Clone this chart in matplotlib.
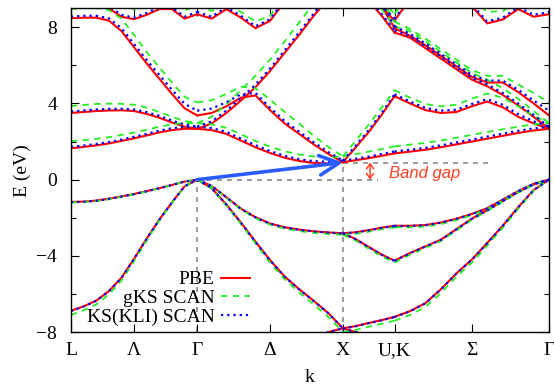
import numpy as np
import matplotlib
matplotlib.use("Agg")
import matplotlib.pyplot as plt
from matplotlib.ticker import MultipleLocator

# high-symmetry points of the fcc path L-G-X-U,K-G (units of 2pi/a)
sym_labels = ['L', 'Λ', 'Γ', 'Δ', 'X', 'U,K', 'Σ', 'Γ']
sym_k = [0.0, 0.433, 0.866, 1.366, 1.866, 2.220, 2.750, 3.280]

# k samples on each segment
k_LG = np.linspace(0.0, 0.866, 11)
k_GX = np.linspace(0.866, 1.866, 11)
k_XU = np.linspace(1.866, 2.220, 5)
k_KG = np.linspace(2.220, 3.280, 11)

# band energies (eV), one list per band
pbe_LG = [
    [-6.88, -6.65, -6.35, -5.85, -5.15, -4.15, -3.1, -2.1, -1.2, -0.35, 0.0],
    [-1.17, -1.15, -1.1, -1.0, -0.88, -0.75, -0.6, -0.45, -0.28, -0.1, 0.0],
    [1.65, 1.72, 1.8, 1.9, 2.03, 2.17, 2.32, 2.48, 2.6, 2.67, 2.67],
    [3.5, 3.55, 3.6, 3.63, 3.64, 3.6, 3.45, 3.25, 3.0, 2.78, 2.67],
    [8.47, 8.5, 8.5, 8.35, 7.8, 6.95, 6.1, 5.3, 4.5, 3.75, 3.37],
    [9.8, 9.6, 9.35, 9.0, 8.55, 8.42, 8.65, 8.95, 8.95, 8.45, 8.68],
]
gks_LG = [
    [-7.1, -6.86, -6.55, -6.03, -5.3, -4.27, -3.19, -2.15, -1.23, -0.36, 0.0],
    [-1.2, -1.18, -1.13, -1.03, -0.9, -0.77, -0.62, -0.46, -0.29, -0.1, 0.0],
    [2.02, 2.07, 2.14, 2.23, 2.35, 2.47, 2.62, 2.78, 2.9, 2.97, 2.97],
    [3.86, 3.92, 3.97, 3.99, 3.98, 3.93, 3.78, 3.55, 3.3, 3.08, 2.97],
    [8.95, 9.0, 9.0, 8.9, 8.45, 7.6, 6.7, 5.9, 5.1, 4.35, 4.05],
    [10.2, 10.0, 9.8, 9.5, 9.1, 8.95, 9.15, 9.4, 9.35, 8.9, 9.1],
]
kli_LG = [
    [-6.9, -6.66, -6.36, -5.86, -5.16, -4.16, -3.1, -2.1, -1.2, -0.35, 0.0],
    [-1.18, -1.16, -1.11, -1.01, -0.89, -0.76, -0.61, -0.45, -0.28, -0.1, 0.0],
    [1.72, 1.79, 1.87, 1.97, 2.1, 2.25, 2.4, 2.57, 2.7, 2.77, 2.78],
    [3.58, 3.63, 3.68, 3.71, 3.72, 3.68, 3.54, 3.35, 3.1, 2.89, 2.78],
    [8.55, 8.6, 8.6, 8.47, 7.95, 7.12, 6.28, 5.5, 4.72, 3.98, 3.62],
    [9.9, 9.7, 9.45, 9.1, 8.65, 8.5, 8.75, 9.05, 9.05, 8.55, 8.8],
]

pbe_GX = [
    [-11.9, -11.8, -11.5, -11.1, -10.6, -10.0, -9.4, -8.9, -8.4, -8.0, -7.8],
    [0.0, -0.45, -1.3, -2.25, -3.25, -4.22, -5.08, -5.75, -6.36, -7.0, -7.8],
    [0.0, -0.33, -0.92, -1.52, -1.97, -2.3, -2.5, -2.62, -2.71, -2.77, -2.81],
    [2.67, 2.6, 2.4, 2.05, 1.7, 1.4, 1.15, 0.98, 0.88, 0.85, 0.92],
    [2.67, 2.95, 3.5, 4.15, 4.85, 5.7, 6.65, 7.6, 8.6, 9.5, 10.3],
    [3.37, 3.5, 3.85, 4.3, 4.42, 3.65, 2.95, 2.4, 1.85, 1.35, 0.92],
    [8.68, 8.45, 8.95, 8.5, 7.95, 8.33, 9.35, 9.9, 10.3, 10.5, 10.5],
]
gks_GX = [
    [-12.1, -12.0, -11.7, -11.3, -10.8, -10.2, -9.6, -9.1, -8.6, -8.2, -8.0],
    [0.0, -0.47, -1.35, -2.32, -3.35, -4.35, -5.22, -5.92, -6.55, -7.2, -8.0],
    [0.0, -0.35, -0.95, -1.56, -2.02, -2.36, -2.57, -2.7, -2.79, -2.85, -2.89],
    [2.97, 2.9, 2.72, 2.38, 2.03, 1.73, 1.49, 1.32, 1.22, 1.18, 1.22],
    [2.97, 3.3, 3.95, 4.7, 5.45, 6.3, 7.25, 8.25, 9.25, 10.1, 10.8],
    [4.05, 4.17, 4.5, 4.88, 4.8, 4.2, 3.55, 2.95, 2.3, 1.72, 1.22],
    [9.1, 8.85, 9.3, 8.8, 8.3, 8.6, 9.6, 10.3, 10.7, 10.9, 10.9],
]
kli_GX = [
    [-11.9, -11.8, -11.5, -11.1, -10.6, -10.0, -9.4, -8.9, -8.4, -8.0, -7.8],
    [0.0, -0.45, -1.31, -2.26, -3.26, -4.23, -5.09, -5.76, -6.37, -7.01, -7.81],
    [0.0, -0.33, -0.92, -1.53, -1.98, -2.31, -2.51, -2.63, -2.72, -2.78, -2.82],
    [2.78, 2.71, 2.51, 2.16, 1.81, 1.5, 1.25, 1.07, 0.97, 0.94, 1.0],
    [2.78, 3.06, 3.62, 4.28, 4.98, 5.83, 6.78, 7.73, 8.72, 9.62, 10.4],
    [3.62, 3.73, 4.06, 4.48, 4.55, 3.78, 3.08, 2.52, 1.96, 1.45, 1.0],
    [8.8, 8.55, 9.05, 8.6, 8.05, 8.42, 9.42, 10.0, 10.4, 10.6, 10.6],
]

pbe_XU = [
    [-7.8, -8.0, -8.15, -8.25, -8.3],
    [-7.8, -7.68, -7.52, -7.37, -7.2],
    [-2.81, -3.12, -3.53, -3.93, -4.25],
    [-2.81, -2.76, -2.65, -2.52, -2.42],
    [0.92, 1.02, 1.13, 1.25, 1.38],
    [0.92, 1.7, 2.5, 3.4, 4.38],
    [10.3, 10.2, 9.85, 9.1, 7.95],
    [10.3, 10.0, 9.4, 8.6, 7.72],
    [10.5, 10.3, 9.8, 9.1, 8.33],
]
gks_XU = [
    [-8.0, -8.2, -8.35, -8.45, -8.5],
    [-8.0, -7.88, -7.72, -7.56, -7.4],
    [-2.89, -3.2, -3.62, -4.02, -4.35],
    [-2.89, -2.84, -2.73, -2.6, -2.5],
    [1.22, 1.34, 1.47, 1.6, 1.75],
    [1.22, 2.05, 2.88, 3.78, 4.7],
    [10.8, 10.6, 10.2, 9.45, 8.3],
    [10.8, 10.4, 9.8, 8.95, 8.05],
    [10.9, 10.7, 10.2, 9.45, 8.7],
]
kli_XU = [
    [-7.81, -8.0, -8.15, -8.25, -8.3],
    [-7.81, -7.69, -7.53, -7.38, -7.21],
    [-2.82, -3.13, -3.54, -3.94, -4.26],
    [-2.82, -2.77, -2.66, -2.53, -2.43],
    [1.0, 1.1, 1.21, 1.34, 1.48],
    [1.0, 1.79, 2.6, 3.5, 4.48],
    [10.4, 10.3, 9.95, 9.2, 8.05],
    [10.4, 10.1, 9.5, 8.7, 7.82],
    [10.6, 10.4, 9.9, 9.2, 8.43],
]

pbe_KG = [
    [-8.3, -8.6, -9.0, -9.4, -9.9, -10.4, -10.9, -11.3, -11.6, -11.8, -11.9],
    [-7.2, -6.9, -6.48, -5.75, -4.92, -4.2, -3.32, -2.42, -1.45, -0.55, 0.0],
    [-4.25, -3.85, -3.5, -3.15, -2.6, -2.05, -1.6, -1.12, -0.65, -0.25, 0.0],
    [-2.42, -2.42, -2.38, -2.25, -2.05, -1.8, -1.5, -1.05, -0.6, -0.22, 0.0],
    [1.38, 1.47, 1.57, 1.7, 1.85, 2.0, 2.15, 2.3, 2.45, 2.58, 2.67],
    [4.38, 4.0, 3.65, 3.5, 3.55, 3.85, 4.1, 3.8, 3.3, 2.95, 2.67],
    [7.95, 7.55, 7.05, 6.5, 5.95, 5.4, 5.1, 5.1, 4.6, 4.0, 3.37],
    [7.72, 7.45, 6.9, 6.35, 5.8, 5.25, 4.9, 4.45, 3.9, 3.3, 2.67],
    [8.33, 9.5, 10.0, 10.0, 9.6, 9.1, 8.2, 8.4, 8.95, 8.55, 8.68],
]
gks_KG = [
    [-8.5, -8.8, -9.2, -9.6, -10.1, -10.6, -11.1, -11.5, -11.8, -12.0, -12.1],
    [-7.4, -7.1, -6.68, -5.95, -5.1, -4.36, -3.46, -2.53, -1.53, -0.59, 0.0],
    [-4.35, -3.94, -3.58, -3.22, -2.67, -2.11, -1.65, -1.16, -0.68, -0.27, 0.0],
    [-2.5, -2.5, -2.46, -2.33, -2.12, -1.86, -1.55, -1.09, -0.63, -0.24, 0.0],
    [1.75, 1.84, 1.93, 2.05, 2.2, 2.35, 2.5, 2.64, 2.78, 2.9, 2.97],
    [4.7, 4.3, 3.97, 3.85, 3.93, 4.25, 4.52, 4.3, 3.85, 3.35, 2.97],
    [8.3, 7.9, 7.4, 6.85, 6.3, 5.75, 5.45, 5.45, 5.0, 4.55, 4.05],
    [8.05, 7.8, 7.25, 6.7, 6.15, 5.6, 5.25, 4.8, 4.25, 3.6, 2.97],
    [8.7, 9.8, 10.3, 10.3, 9.9, 9.5, 8.8, 8.85, 9.3, 9.0, 9.1],
]
kli_KG = [
    [-8.3, -8.6, -9.0, -9.4, -9.9, -10.4, -10.9, -11.3, -11.6, -11.8, -11.9],
    [-7.21, -6.91, -6.49, -5.76, -4.93, -4.21, -3.33, -2.43, -1.46, -0.55, 0.0],
    [-4.26, -3.86, -3.51, -3.16, -2.61, -2.06, -1.61, -1.13, -0.65, -0.25, 0.0],
    [-2.43, -2.43, -2.39, -2.26, -2.06, -1.81, -1.51, -1.06, -0.6, -0.22, 0.0],
    [1.48, 1.57, 1.67, 1.8, 1.95, 2.1, 2.26, 2.41, 2.56, 2.69, 2.78],
    [4.48, 4.1, 3.76, 3.62, 3.67, 3.97, 4.22, 3.93, 3.44, 3.06, 2.78],
    [8.05, 7.65, 7.15, 6.6, 6.05, 5.5, 5.2, 5.2, 4.72, 4.15, 3.62],
    [7.82, 7.55, 7.0, 6.45, 5.9, 5.35, 5.0, 4.55, 4.0, 3.4, 2.78],
    [8.43, 9.6, 10.1, 10.1, 9.7, 9.2, 8.3, 8.5, 9.05, 8.65, 8.8],
]

# band gap annotation
gap = 0.9
gap_arrow_k = 2.052
zero_line_end = 2.107
gap_line_end = 2.862

plt.rcParams['font.family'] = ['Liberation Serif', 'DejaVu Serif']
plt.rcParams['font.size'] = 14

fig = plt.figure(figsize=(5.54, 3.88), dpi=100)
ax = fig.add_axes([0.128, 0.144, 0.863, 0.835])

kgrids = [k_LG, k_GX, k_XU, k_KG]
series = [
    ('PBE', [pbe_LG, pbe_GX, pbe_XU, pbe_KG],
     dict(color='#ff0000', lw=1.5, ls='-')),
    ('gKS SCAN', [gks_LG, gks_GX, gks_XU, gks_KG],
     dict(color='#22ee22', lw=1.3, ls=(0, (3.5, 3)))),
    ('KS(KLI) SCAN', [kli_LG, kli_GX, kli_XU, kli_KG],
     dict(color='#0000ff', lw=1.6, ls=(0, (1, 1.8)))),
]

for name, segs, style in series:
    first = True
    for kk, bands in zip(kgrids, segs):
        for b in bands:
            ax.plot(kk, b, label=name if first else None, **style)
            first = False

# grey guide lines for the gap
grey = dict(color='#8a8a8a', lw=1.2, linestyles=(0, (3, 3)), zorder=1)
ax.vlines(sym_k[2], -8, 0, **grey)
ax.vlines(sym_k[4], -8, gap, **grey)
ax.hlines(0, sym_k[2], zero_line_end, **grey)
ax.hlines(gap, sym_k[4], gap_line_end, **grey)

# indirect gap arrow
ax.annotate('', xy=(sym_k[4], gap), xytext=(sym_k[2], 0),
            arrowprops=dict(arrowstyle='->,head_length=0.7,head_width=0.35',
                            color='#2a5cff', lw=2.6, shrinkA=0, shrinkB=0,
                            mutation_scale=20), zorder=5)
ax.annotate('', xy=(gap_arrow_k, gap), xytext=(gap_arrow_k, 0),
            arrowprops=dict(arrowstyle='<->,head_length=0.35,head_width=0.25',
                            color='#ff4020', lw=1.1, shrinkA=0, shrinkB=0,
                            mutation_scale=10), zorder=5)
ax.text(2.182, 0.32, 'Band gap', color='#ff4020', fontstyle='italic',
        family=['Liberation Sans', 'DejaVu Sans'], fontsize=12,
        ha='left', va='center')

ax.set_xlim(sym_k[0], sym_k[-1])
ax.set_ylim(-8, 9)
ax.set_xticks(sym_k)
ax.set_xticklabels(sym_labels)
ax.set_yticks([-8, -4, 0, 4, 8])
ax.yaxis.set_minor_locator(MultipleLocator(2))
ax.tick_params(direction='in', top=True, right=True, length=6, width=0.8)
ax.tick_params(axis='y', which='major', pad=10)
ax.tick_params(axis='x', which='major', pad=7)
ax.tick_params(which='minor', direction='in', right=True, length=3.5, width=0.8)
for s in ax.spines.values():
    s.set_linewidth(1.0)

ax.set_xlabel('k', labelpad=7)
ax.set_ylabel('E (eV)', labelpad=4)

ax.legend(loc='lower right', bbox_to_anchor=(0.374, 0.02), markerfirst=False,
          frameon=False, handlelength=1.5, handletextpad=0.3,
          labelspacing=0.05, borderpad=0, borderaxespad=0, fontsize=14)

fig.savefig('out.png', dpi=100)
